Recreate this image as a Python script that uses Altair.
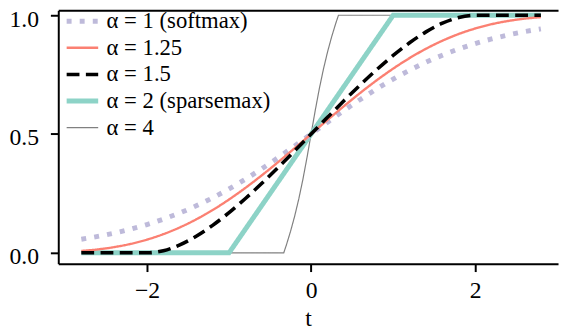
import altair as alt
import pandas as pd

# ---- data ----
t_grid = [-2.8, -2.6, -2.4, -2.2, -2.0, -1.8, -1.6, -1.4, -1.2, -1.0, -0.8, -0.6, -0.4, -0.2,
          0.0, 0.2, 0.4, 0.6, 0.8, 1.0, 1.2, 1.4, 1.6, 1.8, 2.0, 2.2, 2.4, 2.6, 2.8]
p_softmax = [0.0573, 0.0691, 0.0832, 0.0998, 0.1192, 0.1419, 0.1680, 0.1978, 0.2315, 0.2689,
             0.3100, 0.3543, 0.4013, 0.4502, 0.5, 0.5498, 0.5987, 0.6457, 0.6900, 0.7311,
             0.7685, 0.8022, 0.8320, 0.8581, 0.8808, 0.9002, 0.9168, 0.9309, 0.9427]
p_alpha125 = [0.0079, 0.0144, 0.0241, 0.0376, 0.0557, 0.0787, 0.1071, 0.1410, 0.1802, 0.2246,
              0.2736, 0.3265, 0.3825, 0.4407, 0.5, 0.5593, 0.6175, 0.6735, 0.7264, 0.7754,
              0.8198, 0.8590, 0.8929, 0.9213, 0.9443, 0.9624, 0.9759, 0.9856, 0.9921]
p_alpha15 = [0.0, 0.0, 0.0, 0.0, 0.0, 0.0091, 0.0335, 0.0699, 0.1158, 0.1693,
             0.2287, 0.2927, 0.36, 0.4295, 0.5, 0.5705, 0.64, 0.7073, 0.7713, 0.8307,
             0.8842, 0.9301, 0.9665, 0.9909, 1.0, 1.0, 1.0, 1.0, 1.0]
t_sparsemax = [-2.8, -1.0, 1.0, 2.8]
p_sparsemax = [0.0, 0.0, 1.0, 1.0]
t_alpha4 = [-2.8, -0.3333, -0.3, -0.25, -0.2, -0.15, -0.1, -0.05, 0.0,
            0.05, 0.1, 0.15, 0.2, 0.25, 0.3, 0.3333, 2.8]
p_alpha4 = [0.0, 0.0, 0.0345, 0.0911, 0.1548, 0.2271, 0.3092, 0.4013, 0.5,
            0.5987, 0.6908, 0.7729, 0.8452, 0.9089, 0.9655, 1.0, 1.0]

series_names = ["α = 1 (softmax)", "α = 1.25", "α = 1.5", "α = 2 (sparsemax)", "α = 4"]
x_ticks = [-2, 0, 2]
y_ticks = [0.0, 0.5, 1.0]

# ---- styles ----
series_colors = ["#bebada", "#fb8072", "#000000", "#8dd3c7", "#808080"]
series_widths = [5, 2.4, 3.6, 5, 1.2]
series_dashes = [[5, 8.25], [1, 0], [13, 6.5], [1, 0], [1, 0]]
FONT = "Times New Roman, Liberation Serif, serif"
FS = 24
LFS = 23


def frame(ts, ps, name):
    return pd.DataFrame({"t": ts, "p": ps, "series": name})


df_soft = frame(t_grid, p_softmax, series_names[0])
df_125 = frame(t_grid, p_alpha125, series_names[1])
df_15 = frame(t_grid, p_alpha15, series_names[2])
df_sp = frame(t_sparsemax, p_sparsemax, series_names[3])
df_4 = frame(t_alpha4, p_alpha4, series_names[4])

xscale = alt.Scale(domain=[-3.081, 3.009], nice=False, zero=False)
yscale = alt.Scale(domain=[-0.0456, 1.0207], nice=False, zero=False)

x_bottom = alt.Axis(values=x_ticks, tickSize=8, labelPadding=7, title="t",
                    titleY=63, titleBaseline="alphabetic", titleFont=FONT,
                    titleFontSize=FS, titleFontWeight="normal", titleColor="black",
                    labelFont=FONT, labelFontSize=FS)
x_top = alt.Axis(orient="top", labels=False, ticks=False, title=None, domain=True)
y_left = alt.Axis(values=y_ticks, format=".1f", tickSize=8, labelPadding=12, title=None,
                  labelOffset=4, labelFont=FONT, labelFontSize=FS)


def layer(df, interp, xaxis, yaxis):
    return alt.Chart(df).mark_line(interpolate=interp, strokeCap="butt").encode(
        x=alt.X("t:Q", scale=xscale, axis=xaxis),
        y=alt.Y("p:Q", scale=yscale, axis=yaxis),
        color=alt.Color("series:N", title=None,
                        scale=alt.Scale(domain=series_names, range=series_colors)),
        strokeDash=alt.StrokeDash("series:N", title=None,
                                  scale=alt.Scale(domain=series_names, range=series_dashes)),
        strokeWidth=alt.StrokeWidth("series:N", title=None,
                                    scale=alt.Scale(type="ordinal", domain=series_names,
                                                    range=series_widths)),
    )


chart = alt.layer(
    layer(df_4, "linear", x_bottom, y_left),
    layer(df_sp, "linear", x_top, None),
    layer(df_soft, "monotone", None, None),
    layer(df_125, "monotone", None, None),
    layer(df_15, "monotone", None, None),
).resolve_axis(x="independent", y="independent").properties(
    width=507, height=257,
    autosize=alt.AutoSizeParams(type="none"),
    padding={"left": 51, "top": 0, "right": 2, "bottom": 71},
).configure(font=FONT).configure_view(stroke=None).configure_axis(
    grid=False, labelFont=FONT, labelFontSize=FS, labelColor="black",
    domainColor="black", domainWidth=2, tickColor="black", tickWidth=2,
).configure_legend(
    orient="none", legendX=6, legendY=-2.5, symbolType="stroke", symbolSize=1024,
    labelFont=FONT, labelFontSize=LFS, labelColor="black", labelOffset=6,
    labelLimit=400, clipHeight=27, rowPadding=0, padding=0,
)

chart.save("out.html", embed_options={"renderer": "svg", "actions": False})
